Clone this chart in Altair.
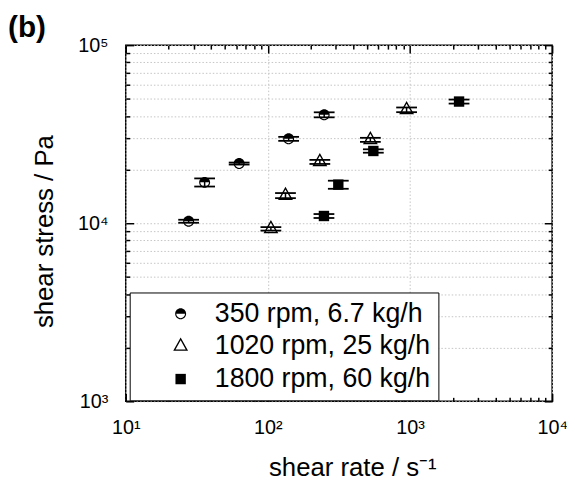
import altair as alt
import pandas as pd

FONT = "Liberation Sans"

# ---------------- data ----------------
SERIES = ["350 rpm, 6.7 kg/h", "1020 rpm, 25 kg/h", "1800 rpm, 60 kg/h"]

RATE_350 = [27.7, 35.9, 62.8, 140, 249]
STRESS_350 = [10260, 16960, 21630, 29780, 40640]
ERR_350 = [200, 890, 280, 770, 1320]

RATE_1020 = [105, 133, 232, 526, 946]
STRESS_1020 = [9300, 14300, 22100, 29400, 43350]
ERR_1020 = [210, 470, 580, 770, 1310]

RATE_1800 = [248, 313, 552, 2213]
STRESS_1800 = [10980, 16470, 25450, 48220]
ERR_1800 = [280, 860, 560, 1250]

X_MAJOR = [10, 100, 1000, 10000]
X_LABELS = ["10\u00b9", "10\u00b2", "10\u00b3", "10\u2074"]
Y_MAJOR = [1000, 10000, 100000]
Y_LABELS = ["10\u00b3", "10\u2074", "10\u2075"]

X_TITLE = "shear rate / s\u207b\u00b9"
Y_TITLE = "shear stress / Pa"
PANEL = "(b)"

# ---------------- marker shapes (custom SVG paths, one common size) ----------------
def circle(r, ccw=False):
    k = 0.5523 * r
    if not ccw:
        return (f"M {-r} 0 C {-r} {-k} {-k} {-r} 0 {-r} C {k} {-r} {r} {-k} {r} 0 "
                f"C {r} {k} {k} {r} 0 {r} C {-k} {r} {-r} {k} {-r} 0 Z ")
    return (f"M {-r} 0 C {-r} {k} {-k} {r} 0 {r} C {k} {r} {r} {k} {r} 0 "
            f"C {r} {-k} {k} {-r} 0 {-r} C {-k} {-r} {-r} {-k} {-r} 0 Z ")


RC = 0.74
KC = 0.5523 * RC
HALF_CIRCLE = (
    f"M {-RC} 0 C {-RC} {-KC} {-KC} {-RC} 0 {-RC} C {KC} {-RC} {RC} {-KC} {RC} 0 Z "
    + circle(RC) + circle(RC - 0.15, ccw=True)
)
TRIANGLE = "M 0 -1.2 L 1 0.6 L -1 0.6 Z M 0 -0.82 L -0.69 0.42 L 0.69 0.42 Z"
SQUARE = "M -0.7 -0.7 L 0.7 -0.7 L 0.7 0.7 L -0.7 0.7 Z"
MARK_SIZE = 225

rows = []
for name, rates, stresses, errs in zip(
    SERIES,
    [RATE_350, RATE_1020, RATE_1800],
    [STRESS_350, STRESS_1020, STRESS_1800],
    [ERR_350, ERR_1020, ERR_1800],
):
    for r, s, e in zip(rates, stresses, errs):
        rows.append({"series": name, "rate": r, "stress": s, "lo": s - e, "hi": s + e})
df = pd.DataFrame(rows)
caps = pd.concat([df.assign(cap=df["lo"]), df.assign(cap=df["hi"])], ignore_index=True)


def all_ticks(majors):
    vals = []
    for m in majors[:-1]:
        vals += [m * k for k in range(1, 10)]
    vals.append(majors[-1])
    return vals


def label_expr(majors, labels):
    expr = "''"
    for m, l in reversed(list(zip(majors, labels))):
        expr = f"datum.value == {m} ? '{l}' : ({expr})"
    return expr


MAJOR_TEST = "abs(log(datum.value)/LN10 - round(log(datum.value)/LN10)) < 0.001"
TICK_SIZE = {"expr": f"({MAJOR_TEST}) ? -8 : -4"}
GRID = dict(grid=True, gridColor="#c4c4c4", gridDash=[1.5, 2], gridWidth=1)

x_scale = alt.Scale(type="log", domain=[10, 10000], nice=False)
y_scale = alt.Scale(type="log", domain=[1000, 100000], nice=False)

common_axis = dict(
    domain=False,
    tickColor="black",
    tickWidth=1.5,
    tickSize=TICK_SIZE,
    labelOverlap=False,
    labelFlush=False,
    labelFont=FONT,
    labelFontSize=20,
    labelColor="black",
    titleFont=FONT,
    titleFontSize=26,
    titleFontWeight="normal",
    titleColor="black",
)

x_axis_bottom = alt.Axis(
    orient="bottom",
    values=all_ticks(X_MAJOR),
    labelExpr=label_expr(X_MAJOR, X_LABELS),
    labelPadding=25,
    gridOpacity={"condition": {"test": MAJOR_TEST, "value": 1}, "value": 0},
    title=X_TITLE,
    titleX=229,
    titleY=75,
    titleAlign="center",
    titleBaseline="alphabetic",
    **GRID,
    **common_axis,
)
y_axis_left = alt.Axis(
    orient="left",
    values=all_ticks(Y_MAJOR),
    labelExpr=label_expr(Y_MAJOR, Y_LABELS),
    labelPadding=26,
    labelBaseline="middle",
    title=Y_TITLE,
    titleX=-82,
    titleY=188,
    titleAngle=270,
    titleAlign="center",
    titleBaseline="middle",
    **GRID,
    **common_axis,
)
x_axis_top = alt.Axis(
    orient="top", values=all_ticks(X_MAJOR), labels=False, grid=False, title=None,
    domain=False, tickColor="black", tickWidth=1.5, tickSize=TICK_SIZE,
)
y_axis_right = alt.Axis(
    orient="right", values=all_ticks(Y_MAJOR), labels=False, grid=False, title=None,
    domain=False, tickColor="black", tickWidth=1.5, tickSize=TICK_SIZE,
)

legend = alt.Legend(
    title=None,
    orient="none",
    legendX=4,
    legendY=250,
    strokeColor="black",
    fillColor="white",
    padding=8,
    labelFont=FONT,
    labelFontSize=27,
    labelColor="black",
    labelLimit=600,
    symbolOffset=30,
    labelOffset=21,
    rowPadding=5,
    symbolSize=MARK_SIZE,
    symbolStrokeWidth=0,
    symbolFillColor="black",
)

rules = alt.Chart(df).mark_rule(color="black", strokeWidth=1.5).encode(
    x=alt.X("rate:Q", scale=x_scale, axis=None),
    y=alt.Y("lo:Q", scale=y_scale, axis=None),
    y2="hi:Q",
)

points = alt.Chart(df).mark_point(filled=True, opacity=1, strokeWidth=0, size=MARK_SIZE).encode(
    x=alt.X("rate:Q", scale=x_scale, axis=x_axis_bottom),
    y=alt.Y("stress:Q", scale=y_scale, axis=y_axis_left),
    shape=alt.Shape("series:N", scale=alt.Scale(domain=SERIES, range=[HALF_CIRCLE, TRIANGLE, SQUARE]), legend=legend),
    color=alt.value("black"),
)

cap_marks = alt.Chart(caps).mark_tick(orient="horizontal", size=21, thickness=1.8, color="black", opacity=1).encode(
    x=alt.X("rate:Q", scale=x_scale, axis=x_axis_top),
    y=alt.Y("cap:Q", scale=y_scale, axis=y_axis_right),
)

panel = alt.Chart(pd.DataFrame({"label": [PANEL]})).mark_text(
    align="left", baseline="alphabetic", font=FONT, fontSize=30, fontWeight="bold", color="black"
).encode(text="label:N", x=alt.value(-119), y=alt.value(-8))

chart = (
    alt.layer(rules, points, cap_marks, panel)
    .resolve_scale(x="shared", y="shared")
    .resolve_axis(x="independent", y="independent")
    .properties(
        width=431,
        height=360,
        padding={"left": 119, "top": 35, "right": 15, "bottom": 78},
        autosize=alt.AutoSizeParams(type="none"),
    )
    .configure_view(stroke="black", strokeWidth=1.5)
)

chart.save("out.html", embed_options={"renderer": "svg", "actions": False})
